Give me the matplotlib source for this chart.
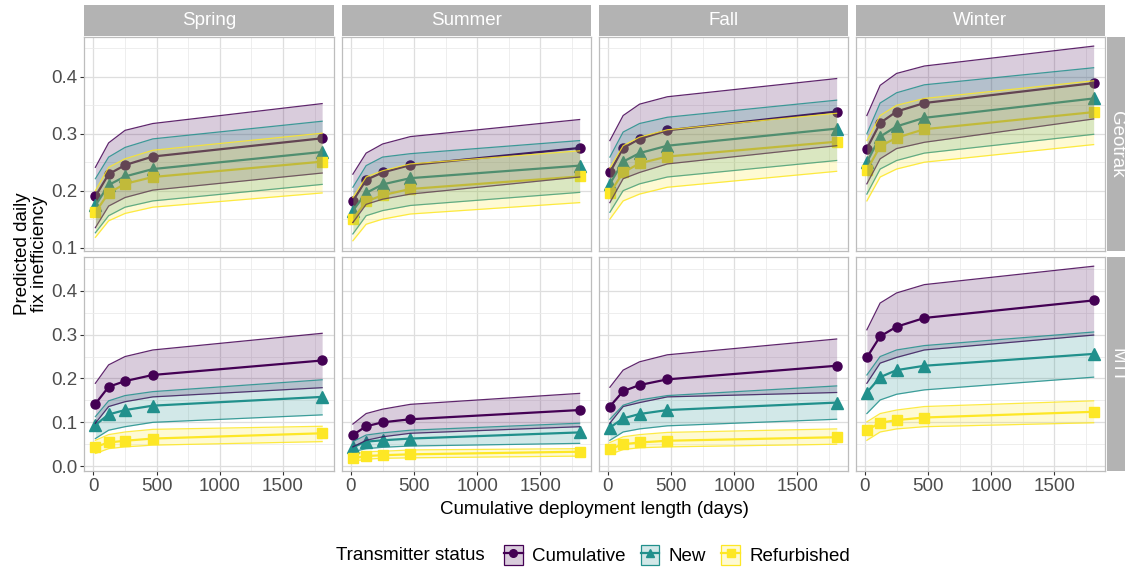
import matplotlib.pyplot as plt
from matplotlib.patches import Patch
from matplotlib.lines import Line2D
from matplotlib.ticker import MultipleLocator

plt.rcParams['font.family'] = ['Liberation Sans', 'DejaVu Sans']

# deployment length at which predictions were made
days = [15, 120, 250, 470, 1810]
seasons = ["Spring", "Summer", "Fall", "Winter"]
brands = ["Geotrak", "MTI"]
statuses = ["Cumulative", "New", "Refurbished"]

# rows: Cumulative, New, Refurbished
geotrak_spring_fit = [[0.190, 0.229, 0.245, 0.260, 0.292],
                      [0.174, 0.210, 0.225, 0.238, 0.268],
                      [0.162, 0.196, 0.212, 0.224, 0.251]]
geotrak_spring_lo = [[0.135, 0.173, 0.188, 0.201, 0.231],
                     [0.126, 0.156, 0.171, 0.182, 0.211],
                     [0.118, 0.147, 0.160, 0.171, 0.196]]
geotrak_spring_hi = [[0.241, 0.284, 0.306, 0.318, 0.353],
                     [0.221, 0.259, 0.276, 0.291, 0.322],
                     [0.200, 0.241, 0.256, 0.271, 0.301]]

geotrak_summer_fit = [[0.182, 0.219, 0.232, 0.245, 0.275],
                      [0.165, 0.196, 0.211, 0.222, 0.244],
                      [0.150, 0.181, 0.192, 0.203, 0.225]]
geotrak_summer_lo = [[0.144, 0.176, 0.185, 0.194, 0.224],
                     [0.124, 0.156, 0.165, 0.174, 0.197],
                     [0.112, 0.141, 0.150, 0.159, 0.179]]
geotrak_summer_hi = [[0.229, 0.266, 0.282, 0.295, 0.325],
                     [0.206, 0.244, 0.259, 0.265, 0.288],
                     [0.188, 0.224, 0.235, 0.247, 0.270]]

geotrak_fall_fit = [[0.232, 0.275, 0.291, 0.306, 0.339],
                    [0.212, 0.251, 0.266, 0.279, 0.309],
                    [0.196, 0.232, 0.248, 0.260, 0.286]]
geotrak_fall_lo = [[0.179, 0.221, 0.232, 0.247, 0.279],
                   [0.162, 0.200, 0.212, 0.224, 0.253],
                   [0.150, 0.182, 0.194, 0.206, 0.234]]
geotrak_fall_hi = [[0.288, 0.332, 0.352, 0.365, 0.397],
                   [0.259, 0.303, 0.318, 0.329, 0.359],
                   [0.240, 0.279, 0.294, 0.307, 0.336]]

geotrak_winter_fit = [[0.274, 0.319, 0.339, 0.354, 0.389],
                      [0.250, 0.295, 0.313, 0.328, 0.362],
                      [0.236, 0.278, 0.293, 0.308, 0.338]]
geotrak_winter_lo = [[0.212, 0.256, 0.274, 0.285, 0.326],
                     [0.194, 0.238, 0.253, 0.266, 0.299],
                     [0.182, 0.224, 0.238, 0.250, 0.281]]
geotrak_winter_hi = [[0.332, 0.385, 0.406, 0.419, 0.454],
                     [0.300, 0.354, 0.372, 0.386, 0.416],
                     [0.288, 0.332, 0.350, 0.362, 0.393]]

mti_spring_fit = [[0.142, 0.181, 0.194, 0.208, 0.241],
                  [0.094, 0.118, 0.128, 0.138, 0.158],
                  [0.044, 0.054, 0.058, 0.063, 0.075]]
mti_spring_lo = [[0.098, 0.136, 0.147, 0.158, 0.179],
                 [0.063, 0.082, 0.090, 0.100, 0.117],
                 [0.029, 0.040, 0.044, 0.048, 0.056]]
mti_spring_hi = [[0.189, 0.231, 0.250, 0.265, 0.303],
                 [0.113, 0.149, 0.161, 0.170, 0.197],
                 [0.059, 0.072, 0.078, 0.084, 0.091]]

mti_summer_fit = [[0.071, 0.091, 0.100, 0.107, 0.128],
                  [0.043, 0.056, 0.059, 0.063, 0.077],
                  [0.018, 0.023, 0.025, 0.027, 0.033]]
mti_summer_lo = [[0.044, 0.059, 0.067, 0.075, 0.090],
                 [0.033, 0.040, 0.043, 0.046, 0.052],
                 [0.011, 0.016, 0.018, 0.019, 0.023]]
mti_summer_hi = [[0.096, 0.120, 0.130, 0.141, 0.166],
                 [0.056, 0.071, 0.076, 0.082, 0.098],
                 [0.027, 0.033, 0.034, 0.037, 0.040]]

mti_fall_fit = [[0.136, 0.171, 0.185, 0.198, 0.229],
                [0.088, 0.109, 0.119, 0.128, 0.145],
                [0.039, 0.050, 0.054, 0.058, 0.066]]
mti_fall_lo = [[0.098, 0.136, 0.145, 0.158, 0.168],
               [0.059, 0.078, 0.085, 0.092, 0.107],
               [0.027, 0.038, 0.042, 0.044, 0.050]]
mti_fall_hi = [[0.180, 0.219, 0.238, 0.254, 0.290],
               [0.107, 0.139, 0.151, 0.161, 0.183],
               [0.054, 0.067, 0.072, 0.077, 0.085]]

mti_winter_fit = [[0.248, 0.296, 0.318, 0.338, 0.378],
                  [0.168, 0.203, 0.219, 0.229, 0.256],
                  [0.082, 0.099, 0.105, 0.111, 0.124]]
mti_winter_lo = [[0.189, 0.235, 0.248, 0.265, 0.299],
                 [0.120, 0.151, 0.164, 0.174, 0.203],
                 [0.059, 0.078, 0.085, 0.090, 0.099]]
mti_winter_hi = [[0.311, 0.372, 0.395, 0.414, 0.456],
                 [0.208, 0.250, 0.265, 0.275, 0.306],
                 [0.101, 0.120, 0.128, 0.136, 0.149]]

panels = {
    ("Geotrak", "Spring"): (geotrak_spring_fit, geotrak_spring_lo, geotrak_spring_hi),
    ("Geotrak", "Summer"): (geotrak_summer_fit, geotrak_summer_lo, geotrak_summer_hi),
    ("Geotrak", "Fall"): (geotrak_fall_fit, geotrak_fall_lo, geotrak_fall_hi),
    ("Geotrak", "Winter"): (geotrak_winter_fit, geotrak_winter_lo, geotrak_winter_hi),
    ("MTI", "Spring"): (mti_spring_fit, mti_spring_lo, mti_spring_hi),
    ("MTI", "Summer"): (mti_summer_fit, mti_summer_lo, mti_summer_hi),
    ("MTI", "Fall"): (mti_fall_fit, mti_fall_lo, mti_fall_hi),
    ("MTI", "Winter"): (mti_winter_fit, mti_winter_lo, mti_winter_hi),
}

colors = ["#440154", "#21908C", "#FDE725"]
markers = ["o", "^", "s"]
msizes = [6.5, 8, 7]
row_ylim = {"Geotrak": (0.094, 0.470), "MTI": (-0.011, 0.477)}
strip_col = "#B3B3B3"
border_col = "#BDBDBD"
fs = 13.5

W, H = 1125, 567
fig = plt.figure(figsize=(W / 100, H / 100), dpi=100)

col_left = [84, 341.5, 598.5, 855.5]
col_w = 249.5
row_top = [37, 257]
row_h = 214


def fx(px):
    return px / W


def fy(py):
    return 1 - py / H


for r, brand in enumerate(brands):
    for c, season in enumerate(seasons):
        ax = fig.add_axes([fx(col_left[c]), fy(row_top[r] + row_h), col_w / W, row_h / H])
        fit, lo, hi = panels[(brand, season)]
        # lines and points first, ribbons drawn over them
        for k in range(3):
            ax.plot(days, fit[k], color=colors[k], lw=1.6, marker=markers[k],
                    ms=msizes[k], mec=colors[k], zorder=2)
        for k in range(3):
            ax.fill_between(days, lo[k], hi[k], color=colors[k], alpha=0.2, lw=0, zorder=3)
            ax.plot(days, lo[k], color=colors[k], lw=0.9, alpha=0.85, zorder=3)
            ax.plot(days, hi[k], color=colors[k], lw=0.9, alpha=0.85, zorder=3)
        ax.set_xlim(-75, 1900)
        ax.set_ylim(*row_ylim[brand])
        ax.xaxis.set_major_locator(MultipleLocator(500))
        ax.xaxis.set_minor_locator(MultipleLocator(250))
        ax.yaxis.set_major_locator(MultipleLocator(0.1))
        ax.yaxis.set_minor_locator(MultipleLocator(0.05))
        ax.grid(True, which="major", color="#DEDEDE", lw=0.9, zorder=0)
        ax.grid(True, which="minor", color="#EBEBEB", lw=0.6, zorder=0)
        ax.set_axisbelow(True)
        for s in ax.spines.values():
            s.set_color(border_col)
            s.set_linewidth(0.9)
        ax.tick_params(which="major", length=3, width=0.8, color="#333333",
                       labelsize=fs, labelcolor="#4D4D4D", pad=2)
        ax.tick_params(which="minor", length=0)
        if c == 0:
            ax.yaxis.set_major_formatter(plt.FuncFormatter(lambda v, p: f"{v:.1f}"))
        else:
            ax.tick_params(axis="y", which="both", length=0, labelleft=False)
        if r == 1:
            ax.set_xticks([0, 500, 1000, 1500])
        else:
            ax.tick_params(axis="x", which="both", length=0, labelbottom=False)

        # strips
        if r == 0:
            sax = fig.add_axes([fx(col_left[c]), fy(36), col_w / W, 31 / H])
            sax.set_facecolor(strip_col)
            sax.set_xticks([])
            sax.set_yticks([])
            for s in sax.spines.values():
                s.set_visible(False)
            sax.text(0.5, 0.5, season, color="white", fontsize=fs,
                     ha="center", va="center", transform=sax.transAxes)
        if c == 3:
            sax = fig.add_axes([fx(1107), fy(row_top[r] + row_h), 19 / W, row_h / H])
            sax.set_facecolor(strip_col)
            sax.set_xticks([])
            sax.set_yticks([])
            for s in sax.spines.values():
                s.set_visible(False)
            sax.text(0.5, 0.5, brand, color="white", fontsize=fs, rotation=-90,
                     ha="center", va="center", transform=sax.transAxes)

fig.text(fx(594), fy(510), "Cumulative deployment length (days)", fontsize=fs,
         ha="center", va="center")
fig.text(fx(31), fy(254), "Predicted daily\nfix inefficiency", fontsize=fs,
         rotation=90, ha="center", va="center", linespacing=0.95)

# legend
handles = []
for k in range(3):
    patch = Patch(facecolor=colors[k], alpha=0.2, edgecolor="none")
    edge = Patch(facecolor="none", edgecolor=colors[k], lw=0.9)
    line = Line2D([], [], color=colors[k], lw=1.6, marker=markers[k], ms=5.5)
    handles.append((patch, edge, line))
fig.text(fx(336), fy(555), "Transmitter status", fontsize=fs, ha="left", va="center")
fig.legend(handles, statuses, loc="center left", bbox_to_anchor=(fx(504), fy(555)),
           ncol=3, frameon=False, fontsize=fs, handlelength=1.0, handleheight=1.3,
           handletextpad=0.5, columnspacing=0.8, borderaxespad=0, borderpad=0)

fig.savefig("out.png", dpi=100)
